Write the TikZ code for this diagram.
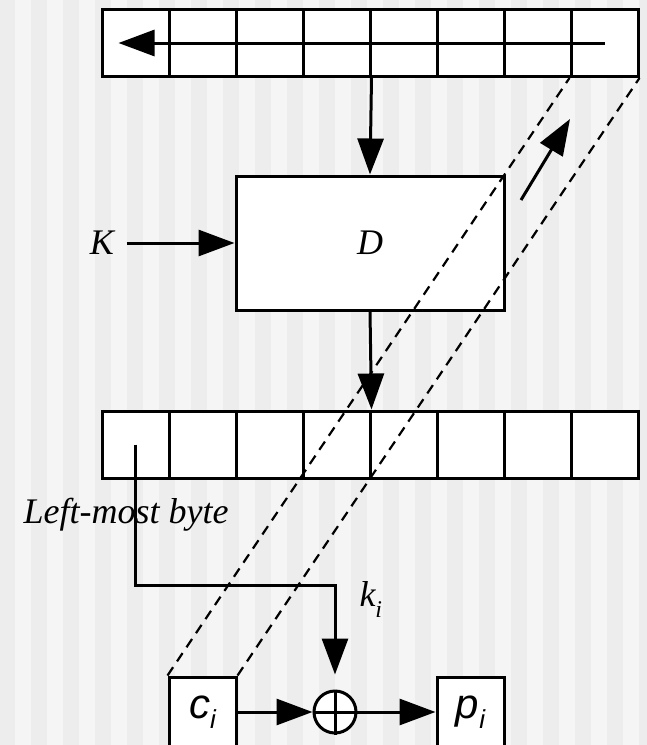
\documentclass[tikz,border=0pt]{standalone}
\usepackage{fontspec}
\setmainfont{Liberation Serif}
\newfontfamily\arialfont{Liberation Sans}
\usetikzlibrary{arrows.meta, calc}
\newcommand{\subidx}[2]{\raisebox{#1}{\fontsize{#2}{#2}\selectfont i}}

\begin{document}
\begin{tikzpicture}[
    x=1pt, y=-1pt, line width=3pt,
    font=\fontsize{36}{40}\selectfont\itshape,
    arr/.style     ={-{Triangle[length=36pt, width=26pt]}},
    cell/.style    ={draw, fill=white, minimum width=67pt, minimum height=67pt, inner sep=0pt},
    big_box/.style ={draw, fill=white, minimum width=268pt, minimum height=134pt},
    io_box/.style  ={draw, fill=white, minimum width=67pt, minimum height=70pt, inner sep=0pt,
                     font=\arialfont\fontsize{42}{46}\selectfont\itshape},
    xor_node/.style={draw, circle, fill=white, minimum size=42pt, inner sep=0pt},
    guide/.style   ={line width=2.2pt, dash pattern=on 10pt off 7pt}
]

% Striped background
\useasboundingbox[fill=black!4] (0,0) rectangle (646,745);
\foreach \s in {0,...,20}
    \fill[black!7] ({32*\s-1},0) rectangle ({32*\s+15},745);

% Shift registers
\foreach \i in {1,...,8} {
    \node[cell] (top_\i) at ({135.5+67*(\i-1)}, 43) {};
    \node[cell] (mid_\i) at ({135.5+67*(\i-1)}, 444.5) {};
}

% Decryption block
\node[big_box] (dec) at (370,243) {D};
\node (k_lbl) at (102,243) {K};

% Input / output bytes
\node[io_box] (c_box) at (202.5,712) {c\subidx{-10pt}{26}};
\node[io_box] (p_box) at (470.5,712) {p\subidx{-10pt}{26}};
\node[xor_node] (xor) at (335,712) {};
\draw (xor.north) -- (xor.south) (xor.west) -- (xor.east);

% Labels
\node (lm_lbl) at (126,515) {Left-most byte};
\node[anchor=west, inner sep=0pt] (ki_lbl) at (358,600) {k\subidx{-11pt}{24}};

% Feedback path
\draw[guide] (c_box.north west) -- (top_8.south west);
\draw[guide] (c_box.north east) -- (top_8.south east);
\coordinate (fb_tail) at (521,200);
\coordinate (fb_head) at (570,119);
\draw[arr] (fb_tail) -- (fb_head);

% Arrows
\draw[arr] (top_8.center) -- ([xshift=18pt]top_1.west);
\draw[arr] (top_4.south east) -- (dec.north);
\draw[arr] (dec.south) -- (mid_4.north east);
\draw[arr, shorten <=8pt] (k_lbl) -- (dec);
\coordinate (ki_level) at (0,585);
\draw[arr] (mid_1.center) |- (xor |- ki_level) -- ([yshift=15pt]xor.north);
\draw[arr] (c_box) -- (xor);
\draw[arr] (xor) -- (p_box);

\end{tikzpicture}
\end{document}
